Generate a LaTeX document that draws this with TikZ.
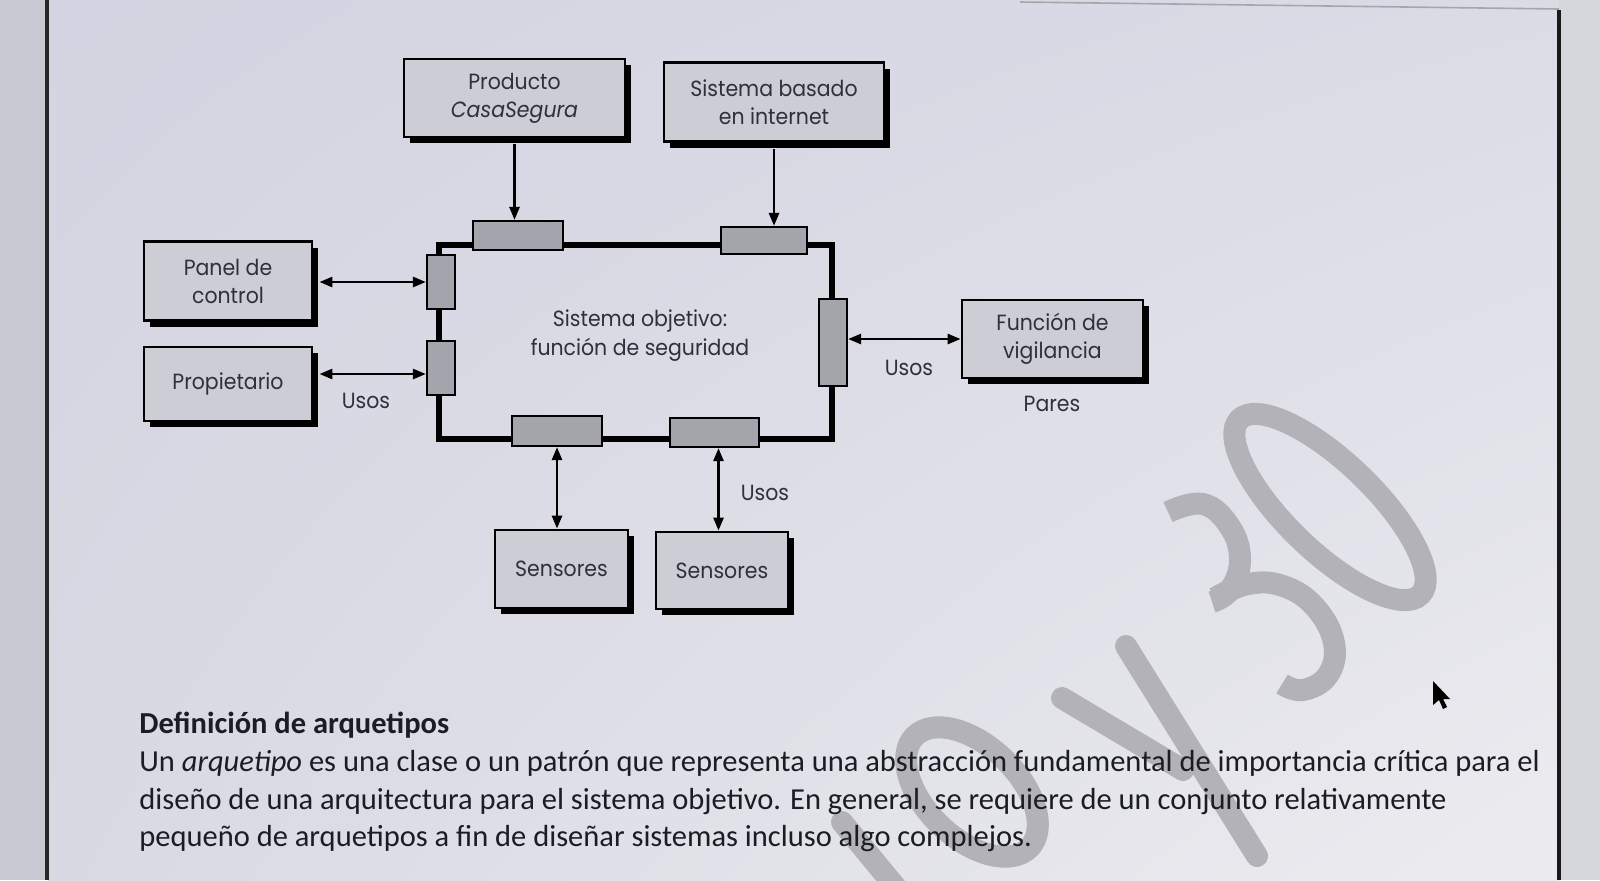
\documentclass[tikz,border=0pt]{standalone}
\usepackage{fontspec}
\setmainfont{Carlito}
\newfontfamily\diagfont[FakeStretch=0.93]{Poppins}
\usetikzlibrary{arrows.meta,shadows,shadings}
\definecolor{bgA}{HTML}{D3D4E1}
\definecolor{bgB}{HTML}{DADBE5}
\definecolor{bgC}{HTML}{D9D9E3}
\definecolor{bgD}{HTML}{ECECF0}
\definecolor{leftstrip}{HTML}{C9C9D3}
\definecolor{rightstrip}{HTML}{D6D6DD}
\definecolor{boxfill}{HTML}{CDCDD6}
\definecolor{portfill}{HTML}{A4A4AD}
\definecolor{dtext}{HTML}{30303C}
\definecolor{btext}{HTML}{1C1C24}
\definecolor{wmcol}{HTML}{B2B2B8}
\begin{document}
\begin{tikzpicture}[x=0.5pt,y=-0.5pt,
  box/.style={draw=black, line width=1.4pt, fill=boxfill, font=\diagfont\fontsize{11}{14}\selectfont,
    text=dtext, align=center, inner sep=0pt,
    general shadow={fill=black, shadow xshift=3pt, shadow yshift=-3pt}},
  port/.style={draw=black, line width=1.1pt, fill=portfill, inner sep=0pt},
  conn/.style={line width=1.3pt, -{Triangle[length=6.5pt,width=5pt]}},
  biconn/.style={line width=1.3pt, {Triangle[length=6.5pt,width=5pt]}-{Triangle[length=6.5pt,width=5pt]}},
  lbl/.style={font=\diagfont\fontsize{11}{14}\selectfont, text=dtext, inner sep=0pt},
  body/.style={anchor=base west, inner sep=0pt, font=\fontsize{15.25}{18}\selectfont, text=btext},
  wm/.style={draw=wmcol, line width=11pt, line cap=round},
]
\useasboundingbox (0,0) rectangle (1600,880);
% background
\fill[leftstrip] (0,0) rectangle (48,880);
\shade[upper left=bgA, upper right=bgB, lower left=bgC, lower right=bgD] (48,0) rectangle (1559,880);
\fill[rightstrip] (1559,0) rectangle (1600,880);
\draw[line width=1.6pt, black!85] (47,0) -- (47,880);
\draw[line width=2pt, black!90] (1559,10) -- (1559,880);
\draw[line width=0.8pt, black!35] (1020,2) -- (1559,9);

% watermark (drawn strokes)
\begin{scope}
\clip (48,0) rectangle (1558,880);
\draw[wm] (1330,507) ellipse [x radius=44, y radius=126, rotate=46];
\draw[wm, line cap=butt] plot[smooth, tension=0.7] coordinates {(1168,512) (1203,504) (1230,527) (1240,560) (1230,590) (1212,602)};
\draw[wm, line cap=butt] plot[smooth, tension=0.7] coordinates {(1215,598) (1248,584) (1283,586) (1315,607) (1334,643) (1328,675) (1303,690) (1282,684)};
\draw[wm] (1126,646) -- (1257,856);
\draw[wm] (1062,698) -- (1183,770);
\draw[wm] (972,792) ellipse [x radius=46, y radius=80, rotate=46];
\draw[wm] (842,822) -- (898,890);
\end{scope}

% system rectangle
\node[draw=black, line width=3pt, minimum width=196.5pt, minimum height=97pt, inner sep=0pt] (sys) at (635.5,342) {};
\node[lbl, align=center, font=\diagfont\fontsize{11}{14.5}\selectfont] (syslbl) at (640,336) {Sistema objetivo:\\función de seguridad};

% ports
\node[port, minimum width=45pt, minimum height=14.5pt] (t1) at (518,235.5) {};
\node[port, minimum width=43pt, minimum height=13.5pt] (t2) at (764,240.5) {};
\node[port, minimum width=14pt, minimum height=27pt] (l1) at (441,282) {};
\node[port, minimum width=14pt, minimum height=27pt] (l2) at (441,368) {};
\node[port, minimum width=14pt, minimum height=43.5pt] (r) at (833,342.5) {};
\node[port, minimum width=45pt, minimum height=15pt] (b1) at (557,431) {};
\node[port, minimum width=44.5pt, minimum height=14.5pt] (b2) at (714.5,432.5) {};

% boxes
\node[box, minimum width=110.5pt, minimum height=39pt] (prod) at (514.5,98) {Producto\\\textit{CasaSegura}};
\node[box, minimum width=110pt, minimum height=39.5pt] (inet) at (774,102) {Sistema basado\\en internet};
\node[box, minimum width=84pt, minimum height=39.5pt] (panel) at (228,281) {Panel de\\control};
\node[box, minimum width=84pt, minimum height=37pt] (prop) at (228,384) {Propietario};
\node[box, minimum width=90.5pt, minimum height=39pt] (vig) at (1052.5,339) {Función de\\vigilancia};
\node[box, minimum width=66.5pt, minimum height=39pt] (s1) at (561.5,569) {Sensores};
\node[box, minimum width=66pt, minimum height=38.5pt] (s2) at (722,570.5) {Sensores};

% connectors
\draw[conn] ([yshift=-3pt]prod.south) -- (prod.south |- t1.north);
\draw[conn] ([yshift=-3pt]inet.south) -- (inet.south |- t2.north);
\draw[biconn] ([xshift=3pt]panel.east |- l1.west) -- (l1.west);
\draw[biconn] ([xshift=3pt,yshift=-3pt]prop.east |- l2.west) -- ([yshift=-3pt]l2.west);
\draw[biconn] (r.east |- vig.west) -- (vig.west);
\draw[biconn] (b1.south) -- (b1.south |- s1.north);
\draw[biconn] ([xshift=2pt]b2.south) -- ([xshift=2pt]b2.south |- s2.north);

% labels
\node[lbl] (u1) at (366,401) {Usos};
\node[lbl] (u2) at (909,368) {Usos};
\node[lbl] (u3) at (765,493) {Usos};
\node[lbl] (pares) at (1052,404) {Pares};

% text
\node[body] (h) at (139,733) {\textbf{Definición de arquetipos}};
\node[body] (p1) at (139,771) {Un \textit{arquetipo} es una clase o un patrón que representa una abstracción fundamental de importancia crítica para el};
\node[body] (p2) at (139,809) {diseño de una arquitectura para el sistema objetivo. En general, se requiere de un conjunto relativamente};
\node[body] (p3) at (139,846) {pequeño de arquetipos a fin de diseñar sistemas incluso algo complejos.};

% mouse cursor
\fill[black] (1433,681) -- (1433,705) -- (1439,700) -- (1443,709) -- (1447,707) -- (1443,699) -- (1450,699) -- cycle;
\end{tikzpicture}
\end{document}
